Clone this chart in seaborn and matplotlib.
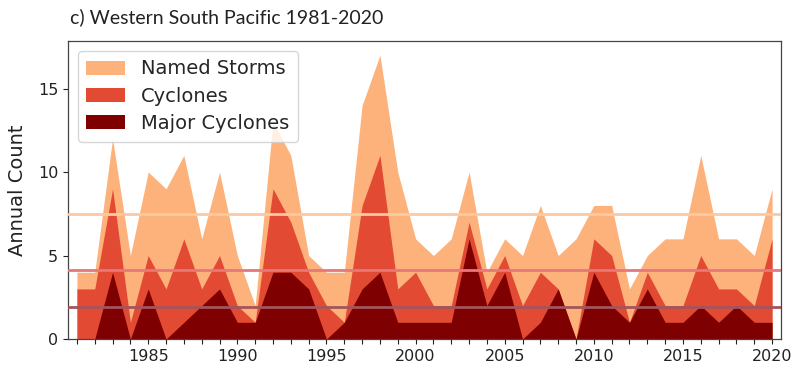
import matplotlib
matplotlib.use("Agg")
import matplotlib.pyplot as plt
import seaborn as sns
import numpy as np
import pandas as pd

# annual counts, Western South Pacific
years = list(range(1981, 2021))
named_storms = [4, 4, 12, 5, 10, 9, 11, 6, 10, 5,
                2, 13, 11, 5, 4, 4, 14, 17, 10, 6,
                5, 6, 10, 4, 6, 5, 8, 5, 6, 8,
                8, 3, 5, 6, 6, 11, 6, 6, 5, 9]
cyclones = [3, 3, 9, 1, 5, 3, 6, 3, 5, 2,
            1, 9, 7, 4, 2, 1, 8, 11, 3, 4,
            2, 2, 7, 3, 5, 2, 4, 3, 0, 6,
            5, 1, 4, 2, 2, 5, 3, 3, 2, 6]
major_cyclones = [0, 0, 4, 0, 3, 0, 1, 2, 3, 1,
                  1, 4, 4, 3, 0, 1, 3, 4, 1, 1,
                  1, 1, 6, 2, 4, 0, 1, 3, 0, 4,
                  2, 1, 3, 1, 1, 2, 1, 2, 1, 1]

series = ["Named Storms", "Cyclones", "Major Cyclones"]
fill_colors = ["#fdb27b", "#e34a33", "#7f0000"]
mean_colors = ["#fdc9a3", "#e5787a", "#a4545a"]

df = pd.DataFrame({"year": years, "Named Storms": named_storms,
                   "Cyclones": cyclones, "Major Cyclones": major_cyclones})

# climatology lines (1981-2010 mean)
clim = df[(df.year >= 1981) & (df.year <= 2010)][series].mean()

sns.set_style("ticks")
plt.rcParams["font.family"] = ["DejaVu Sans"]

fig, ax = plt.subplots(figsize=(8, 3.7), dpi=100)
fig.subplots_adjust(left=68/800, right=781/800, top=1-41/370, bottom=1-339/370)

for name, c in zip(series, fill_colors):
    ax.fill_between(df["year"], 0, df[name], color=c, lw=0, label=name)

for name, c in zip(series, mean_colors):
    ax.axhline(clim[name], color=c, lw=2, zorder=3)

ax.set_xlim(1980.5, 2020.5)
ax.set_ylim(0, 17.85)
ax.set_xticks(years)
ax.set_xticklabels([str(y) if y % 5 == 0 else "" for y in years])
ax.set_yticks([0, 5, 10, 15])
ax.tick_params(labelsize=11.5, length=3.5, width=0.8, colors="#222222")
ax.set_ylabel("Annual Count", fontsize=14, color="#222222", va="center")
ax.yaxis.set_label_coords(-(68 - 18) / 713, 0.5)

for s in ax.spines.values():
    s.set_color("#444444")
    s.set_linewidth(0.9)

ax.legend(loc="upper left", fontsize=14, handlelength=2.0, handleheight=0.72,
          borderpad=0.45, labelspacing=0.42, handletextpad=0.8)

fig.text(70/800, 1-17/370, "c) Western South Pacific 1981-2020",
         fontsize=14, family=["Lato", "DejaVu Sans"], va="center", ha="left",
         color="#222222")

plt.savefig("out.png", dpi=100)
